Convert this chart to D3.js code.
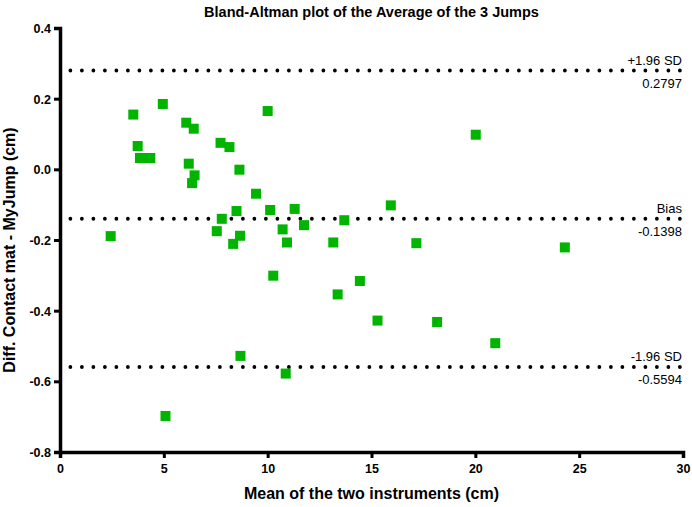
<!DOCTYPE html>
<html>
<head>
<meta charset="utf-8">
<script src="https://cdn.jsdelivr.net/npm/d3@7"></script>
<style>
  body { margin: 0; background: #fff; }
  svg { font-family: Arial, "Liberation Sans", sans-serif; }
</style>
</head>
<body>
<svg id="chart"></svg>
<script>
// mean of the two instruments (cm)
const meanVals = [2.44, 3.53, 3.74, 3.85, 4.1, 4.35, 4.95, 5.08, 6.08, 6.2, 6.36, 6.44, 6.48,
  7.55, 7.73, 7.79, 8.16, 8.34, 8.5, 8.64, 8.67, 8.69, 9.44, 10.0, 10.12, 10.27, 10.72,
  10.87, 10.93, 11.3, 11.75, 13.16, 13.37, 13.69, 14.44, 15.29, 15.93, 17.16, 18.16,
  20.02, 20.96, 24.31];
// difference contact mat - MyJump (cm)
const diffVals = [-0.189, 0.155, 0.066, 0.032, 0.032, 0.032, 0.185, -0.698, 0.132, 0.016, -0.039, 0.115, -0.017,
  -0.175, 0.075, -0.14, 0.063, -0.211, -0.118, -0.001, -0.188, -0.528, -0.069, 0.165, -0.115, -0.301, -0.170,
  -0.578, -0.207, -0.112, -0.158, -0.207, -0.354, -0.144, -0.316, -0.428, -0.102, -0.209, -0.432,
  0.098, -0.492, -0.221];

const refNames = ["+1.96 SD", "Bias", "-1.96 SD"];
const refValues = [0.2797, -0.1398, -0.5594];

const xTicks = [0, 5, 10, 15, 20, 25, 30];
const yTicks = [0.4, 0.2, 0.0, -0.2, -0.4, -0.6, -0.8];

const width = 692, height = 507;
const margin = {top: 28, right: 9, bottom: 55, left: 60};

// plain hyphen for negatives, like the original
const fmt = d3.formatLocale({decimal: ".", thousands: ",", grouping: [3], currency: ["", ""], minus: "-"}).format;

const svg = d3.select("#chart")
    .attr("width", width)
    .attr("height", height);

const x = d3.scaleLinear().domain([0, 30]).range([margin.left, width - margin.right]);
const y = d3.scaleLinear().domain([-0.8, 0.4]).range([height - margin.bottom, margin.top]);

// title
svg.append("text")
    .attr("x", (margin.left + width - margin.right) / 2)
    .attr("y", 17)
    .attr("text-anchor", "middle")
    .attr("font-size", 14.5)
    .attr("font-weight", "bold")
    .text("Bland-Altman plot of the Average of the 3 Jumps");

// reference lines (dotted)
const refs = svg.append("g");
refValues.forEach((v, i) => {
    refs.append("line")
        .attr("x1", x(0.5))
        .attr("x2", x(30))
        .attr("y1", y(v))
        .attr("y2", y(v))
        .attr("stroke", "#000")
        .attr("stroke-width", 3.8)
        .attr("stroke-linecap", "round")
        .attr("stroke-dasharray", "0 11.5");
    refs.append("text")
        .attr("x", x(30) - 1)
        .attr("y", y(v) - 6)
        .attr("text-anchor", "end")
        .attr("font-size", 13)
        .text(refNames[i]);
    refs.append("text")
        .attr("x", x(30) - 1)
        .attr("y", y(v) + 17)
        .attr("text-anchor", "end")
        .attr("font-size", 13)
        .text(fmt(".4f")(v));
});

// points
const size = 10;
svg.append("g")
    .selectAll("rect")
    .data(meanVals.map((m, i) => ({m, d: diffVals[i]})))
    .join("rect")
    .attr("x", p => x(p.m) - size / 2)
    .attr("y", p => y(p.d) - size / 2)
    .attr("width", size)
    .attr("height", size)
    .attr("fill", "#00b400");

// axes
const xAxis = svg.append("g")
    .attr("transform", `translate(0,${y(-0.8)})`)
    .call(d3.axisBottom(x).tickValues(xTicks).tickFormat(fmt("d")).tickSizeOuter(0).tickSize(6).tickPadding(6));

const yAxis = svg.append("g")
    .attr("transform", `translate(${x(0)},0)`)
    .call(d3.axisLeft(y).tickValues(yTicks).tickFormat(fmt(".1f")).tickSizeOuter(0).tickSize(6).tickPadding(3));

[xAxis, yAxis].forEach(a => {
    a.select(".domain").style("stroke-width", "3.5px");
    a.selectAll(".tick line").style("stroke-width", "3px");
    a.selectAll(".tick text")
        .attr("font-size", 12.5)
        .attr("font-weight", "bold")
        .attr("font-family", "Arial, 'Liberation Sans', sans-serif")
        .attr("fill", "#000");
});
yAxis.selectAll(".tick text").attr("dy", "0.35em");

// axis titles
svg.append("text")
    .attr("x", (margin.left + width - margin.right) / 2)
    .attr("y", 499)
    .attr("text-anchor", "middle")
    .attr("font-size", 16)
    .attr("font-weight", "bold")
    .text("Mean of the two instruments (cm)");

svg.append("text")
    .attr("transform", `translate(15,250) rotate(-90)`)
    .attr("text-anchor", "middle")
    .attr("font-size", 16)
    .attr("font-weight", "bold")
    .text("Diff. Contact mat - MyJump (cm)");
</script>
</body>
</html>
